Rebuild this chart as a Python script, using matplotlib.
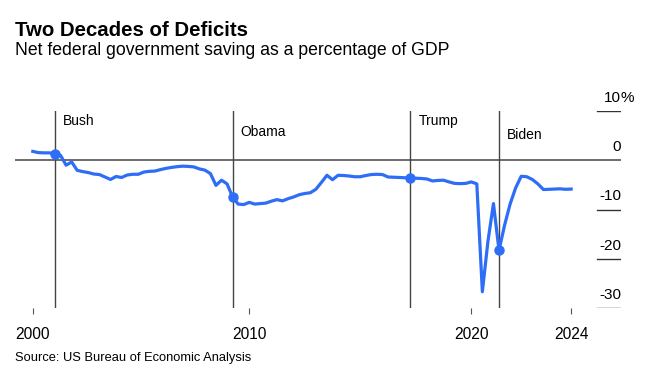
import matplotlib
matplotlib.use("Agg")
import matplotlib.pyplot as plt
import numpy as np

plt.rcParams['font.family'] = ['Liberation Sans', 'DejaVu Sans']

# quarterly net federal government saving, % of GDP, 2000 Q1 .. 2024 Q2
start_year = 2000
deficit = [
  1.8, 1.55, 1.5, 1.5,          # 2000
  1.35, 1.0, -1.0, -0.35,       # 2001
  -2.05, -2.3, -2.5, -2.8,      # 2002
  -2.9, -3.4, -3.9, -3.3,       # 2003
  -3.5, -3.0, -2.85, -2.85,     # 2004
  -2.4, -2.25, -2.2, -1.9,      # 2005
  -1.65, -1.45, -1.3, -1.2,     # 2006
  -1.25, -1.35, -1.75, -2.0,    # 2007
  -2.7, -5.1, -4.05, -4.8,      # 2008
  -7.45, -8.9, -9.0, -8.55,     # 2009
  -8.9, -8.8, -8.7, -8.3,       # 2010
  -8.0, -8.25, -7.8, -7.45,     # 2011
  -7.0, -6.75, -6.6, -5.9,      # 2012
  -4.5, -3.05, -3.95, -3.05,    # 2013
  -3.1, -3.2, -3.35, -3.35,     # 2014
  -3.1, -2.9, -2.85, -2.9,      # 2015
  -3.4, -3.45, -3.5, -3.55,     # 2016
  -3.6, -3.65, -3.7, -3.8,      # 2017
  -4.2, -4.1, -4.05, -4.4,      # 2018
  -4.7, -4.75, -4.7, -4.4,      # 2019
  -4.8, -26.7, -16.5, -8.8,     # 2020
  -18.3, -13.2, -8.9, -5.6,     # 2021
  -3.25, -3.35, -3.9, -4.8,     # 2022
  -5.95, -5.9, -5.85, -5.8,     # 2023
  -5.9, -5.85,                  # 2024
]

presidents = ["Bush", "Obama", "Trump", "Biden"]
took_office = [2001, 2009, 2017, 2021]
label_levels = [7.1, 4.9, 7.25, 4.4]

y_ticks = [10, 0, -10, -20, -30]
x_ticks = [2000, 2009.75, 2019.75, 2024.25]
x_labels = ["2000", "2010", "2020", "2024"]

BLUE = "#2e6df6"

years = start_year + np.arange(len(deficit)) * 0.25

fig = plt.figure(figsize=(6.48, 3.82), dpi=100)
ax = fig.add_axes([15/648, 74/382, 606/648, 197/382])
ax.set_xlim(1999.198, 2026.495)
ax.set_ylim(-30, 10)
for s in ax.spines.values():
  s.set_visible(False)

# zero line across, short grid stubs on the right
ax.axhline(0, color="#444444", lw=1.1, zorder=1)
for v in y_ticks:
  if v != 0:
    ax.axhline(v, xmin=0.96, xmax=1.0, color="#333333", lw=1.0)
  ax.annotate(str(v), xy=(1.0, v), xycoords=("axes fraction", "data"),
              xytext=(0, 6.5), textcoords="offset points",
              ha="right", va="baseline", fontsize=11, annotation_clip=False)
ax.annotate("%", xy=(1.0, 10), xycoords=("axes fraction", "data"),
            xytext=(-0.6, 6.5), textcoords="offset points",
            ha="left", va="baseline", fontsize=11, annotation_clip=False)

# presidency markers
for name, yr, lvl in zip(presidents, took_office, label_levels):
  ax.axvline(yr, color="#444444", lw=1.0, zorder=1)
  ax.annotate(name, xy=(yr, lvl), xytext=(5.8, 0), textcoords="offset points",
              ha="left", va="baseline", fontsize=10)

ax.plot(years, deficit, color=BLUE, lw=2.3, solid_joinstyle="round", zorder=3)
dot_vals = [deficit[int((yr - start_year) * 4)] for yr in took_office]
ax.plot(took_office, dot_vals, "o", color=BLUE, ms=6.5, zorder=4)

ax.set_yticks([])
ax.set_xticks(x_ticks)
ax.set_xticklabels(x_labels, fontsize=11.2)
ax.tick_params(axis="x", length=4.5, width=0.8, color="#555555", pad=9)

fig.text(15/648, 1 - 36.5/382, "Two Decades of Deficits", fontsize=14.7,
         fontweight="bold", va="baseline")
fig.text(15/648, 1 - 55/382, "Net federal government saving as a percentage of GDP",
         fontsize=12.7, va="baseline")
fig.text(15/648, 1 - 361/382, "Source: US Bureau of Economic Analysis",
         fontsize=9.3, va="baseline")

plt.savefig("out.png", dpi=100)
